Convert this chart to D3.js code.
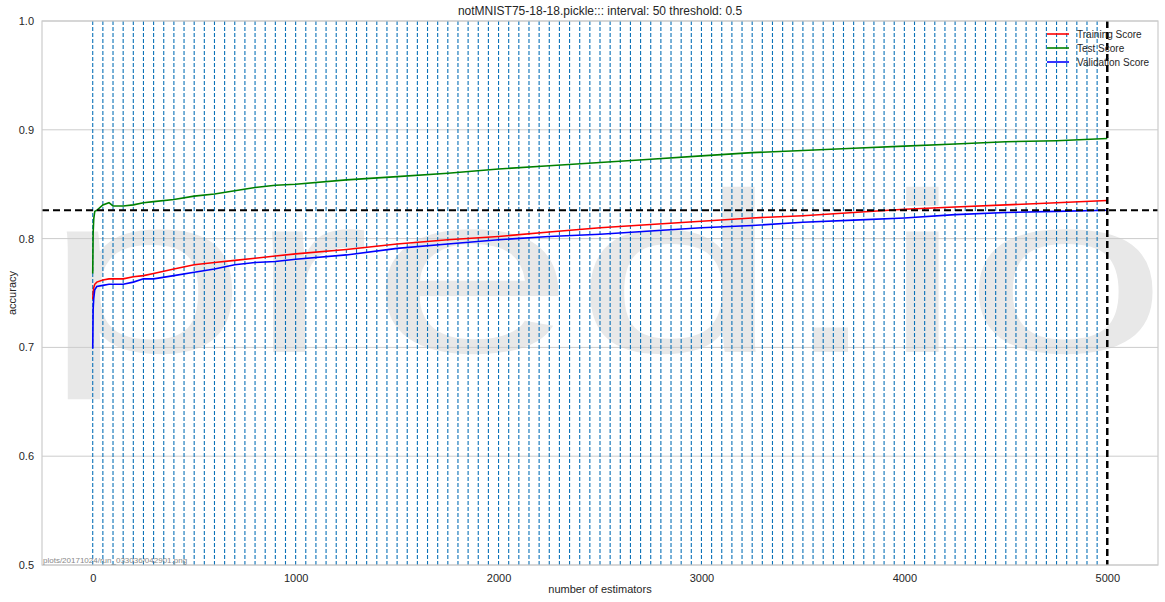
<!DOCTYPE html>
<html>
<head>
<meta charset="utf-8">
<script src="https://cdn.jsdelivr.net/npm/d3@7"></script>
<style>
  body { margin: 0; background: #fff; }
  text { font-family: "Liberation Sans", Arial, sans-serif; fill: #262626; }
</style>
</head>
<body>
<div id="chart"></div>
<script>
// estimator counts where the scores were read off
const steps = [0, 2, 5, 10, 20, 50, 80, 100, 150, 200, 250, 300, 400, 500, 600, 700, 800, 900, 1000,
  1250, 1500, 1750, 2000, 2250, 2500, 2750, 3000, 3250, 3500, 3750, 4000, 4250, 4500, 4750, 5000];

const trainScore = [0.744, 0.750, 0.755, 0.758, 0.760, 0.762, 0.763, 0.763, 0.763, 0.765, 0.766, 0.768, 0.772, 0.776,
  0.778, 0.780, 0.782, 0.784, 0.786, 0.790, 0.795, 0.799, 0.802, 0.806, 0.810, 0.813, 0.816, 0.819, 0.821,
  0.824, 0.827, 0.829, 0.831, 0.833, 0.835];

const testScore = [0.768, 0.805, 0.818, 0.825, 0.826, 0.831, 0.833, 0.830, 0.830, 0.831, 0.833, 0.834, 0.836, 0.839,
  0.841, 0.844, 0.847, 0.849, 0.850, 0.854, 0.857, 0.860, 0.864, 0.867, 0.870, 0.873, 0.876, 0.879, 0.881,
  0.883, 0.885, 0.887, 0.889, 0.890, 0.892];

const validScore = [0.699, 0.735, 0.745, 0.753, 0.756, 0.757, 0.758, 0.758, 0.758, 0.760, 0.763, 0.763, 0.766, 0.769,
  0.772, 0.776, 0.778, 0.779, 0.781, 0.785, 0.791, 0.795, 0.799, 0.802, 0.804, 0.807, 0.810, 0.812, 0.815,
  0.817, 0.819, 0.822, 0.824, 0.825, 0.826];

const seriesNames = ["Training Score", "Test Score", "Validation Score"];
const seriesColors = ["#ff0000", "#008000", "#0000ff"];
const xTicks = [0, 1000, 2000, 3000, 4000, 5000];
const yTicks = [0.5, 0.6, 0.7, 0.8, 0.9, 1.0];

const interval = 50;
const maxEstimators = 5000;
const threshold = 0.826;   // horizontal reference line
const title = "notMNIST75-18-18.pickle::: interval: 50 threshold: 0.5";
const footnote = "plots/20171024/run_033036/042901.png";

const W = 1165, H = 602;
const margin = { top: 21, right: 7, bottom: 37, left: 42 };
const width = W - margin.left - margin.right,
  height = H - margin.top - margin.bottom;

const x = d3.scaleLinear().domain([-250, 5250]).range([0, width]);
const y = d3.scaleLinear().domain([0.5, 1.0]).range([height, 0]);

const svg = d3.select("#chart").append("svg")
  .attr("width", W)
  .attr("height", H);

svg.append("defs").append("clipPath").attr("id", "plotclip")
  .append("rect").attr("width", width).attr("height", height);

const g = svg.append("g")
  .attr("transform", "translate(" + margin.left + "," + margin.top + ")");

// watermark
g.append("text")
  .attr("clip-path", "url(#plotclip)")
  .attr("x", 1)
  .attr("y", 331)
  .attr("textLength", 1125)
  .attr("lengthAdjust", "spacingAndGlyphs")
  .style("font-size", "228px")
  .style("fill", "#e8e8e8")
  .text("pred.io");

// horizontal grid
g.selectAll(".hgrid")
  .data(yTicks)
  .enter().append("line")
  .attr("x1", 0).attr("x2", width)
  .attr("y1", d => y(d)).attr("y2", d => y(d))
  .style("stroke", "#cccccc")
  .style("stroke-width", 1);

// interval markers
const marks = d3.range(0, maxEstimators, interval);
g.selectAll(".imark")
  .data(marks)
  .enter().append("line")
  .attr("x1", d => x(d)).attr("x2", d => x(d))
  .attr("y1", 0).attr("y2", height)
  .style("stroke", "#0b72b8")
  .style("stroke-width", 1.1)
  .style("stroke-dasharray", "4,2");

// score lines
const scores = [trainScore, testScore, validScore];
const line = d3.line()
  .x((d, i) => x(steps[i]))
  .y(d => y(d));

scores.forEach((s, i) => {
  g.append("path")
    .datum(s)
    .attr("d", line)
    .style("fill", "none")
    .style("stroke", seriesColors[i])
    .style("stroke-width", 1.6);
});

// threshold lines
g.append("line")
  .attr("x1", 0).attr("x2", width)
  .attr("y1", y(threshold)).attr("y2", y(threshold))
  .style("stroke", "#000")
  .style("stroke-width", 2)
  .style("stroke-dasharray", "7,4");

g.append("line")
  .attr("x1", x(maxEstimators)).attr("x2", x(maxEstimators))
  .attr("y1", 0).attr("y2", height)
  .style("stroke", "#000")
  .style("stroke-width", 2.5)
  .style("stroke-dasharray", "7,4");

// frame
g.append("rect")
  .attr("width", width).attr("height", height)
  .style("fill", "none")
  .style("stroke", "#cccccc")
  .style("stroke-width", 1.2);

// axes
const xAxis = g.append("g")
  .attr("transform", "translate(0," + height + ")")
  .call(d3.axisBottom(x).tickValues(xTicks).tickSize(0).tickPadding(9).tickFormat(d3.format("d")));
const yAxis = g.append("g")
  .call(d3.axisLeft(y).tickValues(yTicks).tickSize(0).tickPadding(8).tickFormat(d3.format(".1f")));
[xAxis, yAxis].forEach(a => {
  a.select(".domain").remove();
  a.selectAll("text")
    .style("font-family", "'Liberation Sans', Arial, sans-serif")
    .style("font-size", "11px")
    .style("fill", "#262626");
});

// labels
svg.append("text")
  .attr("x", margin.left + width / 2)
  .attr("y", 593)
  .attr("text-anchor", "middle")
  .style("font-size", "11px")
  .text("number of estimators");

svg.append("text")
  .attr("transform", "rotate(-90)")
  .attr("x", -(margin.top + height / 2))
  .attr("y", 16)
  .attr("text-anchor", "middle")
  .style("font-size", "11px")
  .text("accuracy");

svg.append("text")
  .attr("x", margin.left + width / 2)
  .attr("y", 15)
  .attr("text-anchor", "middle")
  .style("font-size", "12px")
  .text(title);

svg.append("text")
  .attr("x", margin.left + 1)
  .attr("y", margin.top + height - 2)
  .style("font-size", "8px")
  .style("fill", "#888888")
  .text(footnote);

// legend
const legend = g.append("g")
  .attr("transform", "translate(" + (1047 - margin.left) + "," + (34 - margin.top) + ")");
seriesNames.forEach((name, i) => {
  legend.append("line")
    .attr("x1", 0).attr("x2", 22)
    .attr("y1", i * 14).attr("y2", i * 14)
    .style("stroke", seriesColors[i])
    .style("stroke-width", 1.6);
  legend.append("text")
    .attr("x", 30)
    .attr("y", i * 14 + 3.5)
    .style("font-size", "10px")
    .text(name);
});
</script>
</body>
</html>
